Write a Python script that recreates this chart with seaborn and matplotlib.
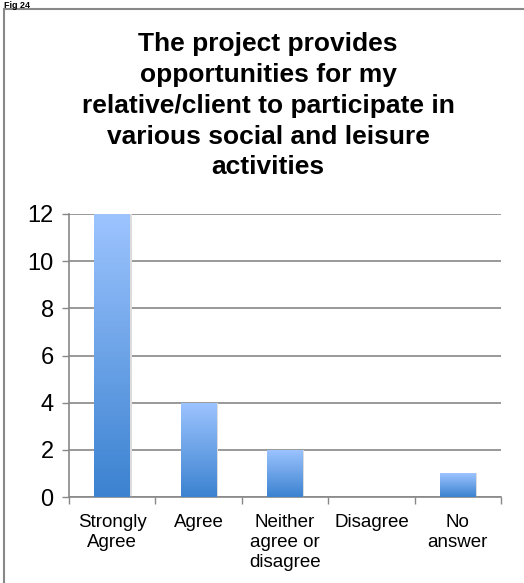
import numpy as np
import pandas as pd
import matplotlib
matplotlib.use("Agg")
import matplotlib.pyplot as plt
import seaborn as sns
from matplotlib.colors import LinearSegmentedColormap
from matplotlib.patches import Rectangle

categories = ["Strongly\nAgree", "Agree", "Neither\nagree or\ndisagree", "Disagree", "No\nanswer"]
values = [12, 4, 2, 0, 1]
y_ticks = [0, 2, 4, 6, 8, 10, 12]
title = "The project provides\nopportunities for my\nrelative/client to participate in\nvarious social and leisure\nactivities"
fig_label = "Fig 24"

sns.set_theme(style="white")
plt.rcParams["font.family"] = ["Liberation Sans", "DejaVu Sans"]
plt.rcParams["text.color"] = "black"
plt.rcParams["xtick.labelcolor"] = "black"
plt.rcParams["ytick.labelcolor"] = "black"

df = pd.DataFrame({"category": categories, "value": values})

fig = plt.figure(figsize=(5.24, 5.83), dpi=100)
ax = fig.add_axes([69/524, 1-497/583, (501-69)/524, (497-214)/583])

sns.barplot(data=df, x="category", y="value", color="#6fa3e8", width=0.41, ax=ax,
            saturation=1, edgecolor="none", linewidth=0)

cmap = LinearSegmentedColormap.from_list("grad", ["#3b82d0", "#9dc4ff"])
grad = np.linspace(0, 1, 256).reshape(-1, 1)
for p in list(ax.patches):
    x0, y0 = p.get_x(), p.get_y()
    w, h = p.get_width(), p.get_height()
    if h <= 0:
        continue
    sh = Rectangle((x0 + 0.02, y0), w, h, facecolor="#dcdcdc", edgecolor="none", zorder=1.5)
    ax.add_patch(sh)
    im = ax.imshow(grad, cmap=cmap, extent=[x0, x0 + w, y0, y0 + h], origin="lower",
                   aspect="auto", zorder=3)
    im.set_clip_path(p)
    p.set_zorder(2)

ax.set_xlim(-0.5, 4.5)
ax.set_ylim(0, 12)
ax.set_yticks(y_ticks)
ax.set_yticklabels([str(v) for v in y_ticks], fontsize=17)
ax.set_xticks(range(len(categories)))
ax.set_xticklabels(categories, fontsize=13.5, linespacing=1.25)
ax.set_xticks(np.arange(-0.5, 5, 1), minor=True)
ax.tick_params(axis="x", which="major", length=0, pad=12)
ax.tick_params(axis="x", which="minor", length=5, width=1, color="#888888", direction="out", bottom=True)
ax.tick_params(axis="y", length=5, width=1, color="#888888", direction="out", left=True, pad=6)
ax.set_xlabel("")
ax.set_ylabel("")
ax.yaxis.grid(True, color="#888888", linewidth=1.2)
ax.set_axisbelow(True)
for s in ["top", "right"]:
    ax.spines[s].set_visible(False)
for s in ["left", "bottom"]:
    ax.spines[s].set_color("#888888")
    ax.spines[s].set_linewidth(1.2)

fig.text(268/524, 1-32/583, title, ha="center", va="top", fontsize=19, fontweight="bold",
         linespacing=1.36)

fig.patches.append(Rectangle((4/524, -0.1), 1.2, 1 - 9/583 + 0.1, transform=fig.transFigure,
                             facecolor="none", edgecolor="#888888", linewidth=1.5, clip_on=False))
fig.text(4/524, 1 - 0.5/583, fig_label, ha="left", va="top", fontsize=6.5, fontweight="bold")

fig.savefig("out.png", dpi=100)
